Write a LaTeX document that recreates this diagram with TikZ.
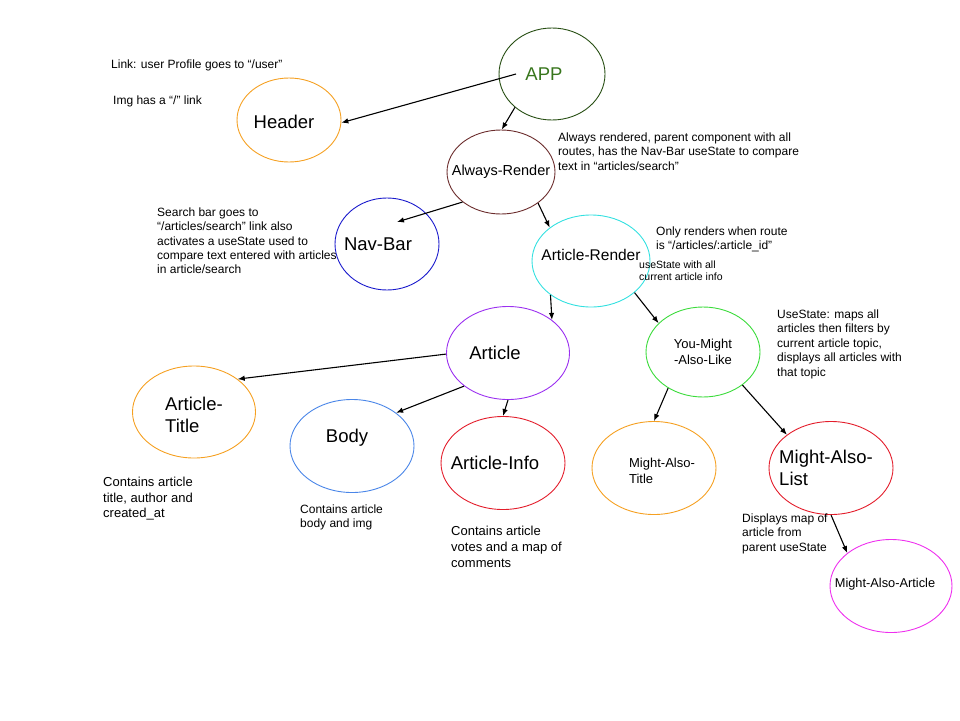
\documentclass[tikz,border=0pt]{standalone}
\usepackage{fontspec}
\setmainfont{Liberation Sans}
\usetikzlibrary{shapes.geometric,arrows.meta,calc}

\definecolor{appline}{HTML}{274E13}
\definecolor{apptext}{HTML}{38761D}
\definecolor{orangeline}{HTML}{F5A021}
\definecolor{brownline}{HTML}{6B2C2C}
\definecolor{navblue}{HTML}{1A1ACC}
\definecolor{cyanline}{HTML}{33E0E0}
\definecolor{purpleline}{HTML}{9B30F0}
\definecolor{greenline}{HTML}{3ADB3A}
\definecolor{bodyblue}{HTML}{4A86E8}
\definecolor{redline}{HTML}{E31D2B}
\definecolor{magentaline}{HTML}{EE2FEE}

\begin{document}
\begin{tikzpicture}[x=1pt,y=-1pt,every node/.style={inner sep=0pt},
comp/.style={ellipse,draw,line width=0.9pt,minimum width=124pt,minimum height=93pt},
big/.style={font=\fontsize{18.5}{22}\selectfont,align=left},
mid/.style={font=\fontsize{14.5}{17}\selectfont,align=center},
small/.style={font=\fontsize{13}{16}\selectfont,align=left},
note/.style={anchor=north west,align=left,font=\fontsize{12}{14.5}\selectfont},
link/.style={-{Latex[length=7pt,width=5.5pt]},line width=1.1pt}]
\useasboundingbox (0,0) rectangle (960,720);

\node (app) at (552,74) [comp,draw=appline,minimum width=106pt,minimum height=92pt,
label={[big,text=apptext,xshift=-8pt]center:APP}] {};
\node (header) at (289,120) [comp,draw=orangeline,minimum width=104pt,minimum height=84pt,
label={[big,xshift=-5pt,yshift=-2pt]center:Header}] {};
\node (always) at (501,172) [comp,draw=brownline,minimum width=108pt,minimum height=84pt,
label={[mid]center:Always-Render}] {};
\node (navbar) at (387,244) [comp,draw=navblue,minimum width=104pt,minimum height=92pt,
label={[big,xshift=-9pt]center:Nav-Bar}] {};
\node (artrender) at (591,261) [comp,draw=cyanline,minimum width=118pt,minimum height=92pt,
label={[big,font=\fontsize{15.5}{18}\selectfont,yshift=6pt]center:Article-Render}] {};
\node (article) at (508,353) [comp,draw=purpleline,minimum width=123pt,
label={[big,xshift=-13pt]center:Article}] {};
\node (youmight) at (703,352) [comp,draw=greenline,minimum width=114pt,minimum height=90pt,
label={[small,align=center]center:You-Might\\-Also-Like}] {};
\node (arttitle) at (194,412) [comp,draw=orangeline,minimum width=123pt,minimum height=92pt,
label={[big,yshift=-3pt]center:Article-\\Title}] {};
\node (body) at (352,446) [comp,draw=bodyblue,
label={[big,xshift=-5pt,yshift=8pt]center:Body}] {};
\node (artinfo) at (503,463) [comp,draw=redline,
label={[big,xshift=-8pt]center:Article-Info}] {};
\node (matitle) at (654,468) [comp,draw=orangeline,
label={[small,xshift=8pt,yshift=-3pt]center:Might-Also-\\Title}] {};
\node (malist) at (831,468) [comp,draw=redline,
label={[big,xshift=-5pt]center:Might-Also-\\List}] {};
\node (maarticle) at (891,586) [comp,draw=magentaline,minimum width=122pt,
label={[small,font=\fontsize{12.8}{15}\selectfont,xshift=-6pt,yshift=2pt]center:Might-Also-Article}] {};

\node (linknote) at (111,60) [note] {Link: user Profile goes to “/user”};
\node (imgnote) at (113,95.5) [note] {Img has a “/” link};
\node (alwaysnote) at (558,132.5) [note] {Always rendered, parent component with all\\routes, has the Nav-Bar useState to compare\\text in “articles/search”};
\node (searchnote) at (157,207.5) [note,font=\fontsize{12}{14.3}\selectfont] {Search bar goes to\\“/articles/search” link also\\activates a useState used to\\compare text entered with articles\\in article/search};
\node (routenote) at (656,226.5) [note] {Only renders when route\\is “/articles/:article\_id”};
\node (statenote) at (639,261) [note,font=\fontsize{10.5}{12}\selectfont] {useState with all\\current article info};
\node (mapsnote) at (777,309.5) [note] {UseState: maps all\\articles then filters by\\current article topic,\\displays all articles with\\that topic};
\node (titlenote) at (103,477) [note,font=\fontsize{13}{15.5}\selectfont] {Contains article\\title, author and\\created\_at};
\node (bodynote) at (300,504.5) [note,font=\fontsize{12}{13.7}\selectfont] {Contains article\\body and img};
\node (infonote) at (451,526) [note,font=\fontsize{13}{16}\selectfont] {Contains article\\votes and a map of\\comments};
\node (listnote) at (742,513.5) [note] {Displays map of\\article from\\parent useState};

\draw[link] ($(app.center)+(-36,0)$) -- (header.357);
\draw[link] (app.222) -- (always.89);
\draw[link] (always.218) -- ($(navbar.center)+(10,-22)$);
\draw[link] (always.320) -- (artrender.141);
\draw[link] (artrender.220) -- (article.37);
\draw[link] (artrender.324) -- (youmight.147);
\draw[link] (article.181) -- (arttitle.37);
\draw[link] (article.217) -- (body.37);
\draw[link] (article.270) -- (artinfo.90);
\draw[link] (youmight.226) -- (matitle.90);
\draw[link] (youmight.320) -- (malist.143);
\draw[link] (malist.270) -- (maarticle.143);
\end{tikzpicture}
\end{document}
